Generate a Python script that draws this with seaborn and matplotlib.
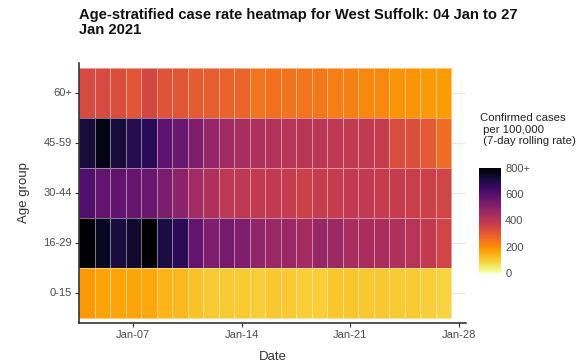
import numpy as np
import pandas as pd
import matplotlib
matplotlib.use("Agg")
import matplotlib.pyplot as plt
import seaborn as sns

# ============================================================
# DATA (7-day rolling rate per 100,000)
# ============================================================

age_groups = ["60+", "45-59", "30-44", "16-29", "0-15"]
dates = pd.date_range("2021-01-04", "2021-01-27")

rate_60_plus = [340, 340, 330, 310, 345, 315, 310, 295, 290, 280, 275, 245,
                250, 248, 245, 240, 225, 222, 210, 210, 190, 190, 180, 175]
rate_45_59 = [720, 770, 720, 690, 680, 590, 560, 520, 475, 455, 440, 425,
              420, 410, 405, 400, 395, 390, 385, 380, 330, 325, 300, 260]
rate_30_44 = [610, 575, 580, 570, 565, 530, 495, 450, 425, 395, 395, 385,
              385, 380, 365, 380, 380, 385, 385, 380, 380, 370, 365, 355]
rate_16_29 = [800, 750, 715, 735, 800, 710, 680, 575, 520, 540, 520, 485,
              470, 470, 445, 470, 465, 440, 435, 435, 425, 410, 385, 355]
rate_0_15 = [180, 165, 160, 160, 155, 135, 130, 115, 100, 100, 100, 95,
             105, 102, 95, 95, 108, 108, 104, 105, 102, 100, 92, 85]

tick_dates = ["Jan-07", "Jan-14", "Jan-21", "Jan-28"]
cbar_ticks = [0, 200, 400, 600, 800]
cbar_labels = ["0", "200", "400", "600", "800+"]

rates = pd.DataFrame(
    [rate_60_plus, rate_45_59, rate_30_44, rate_16_29, rate_0_15],
    index=age_groups,
    columns=dates.strftime("%b-%d"),
)

# ============================================================
# PLOT
# ============================================================

sns.set_style("white")
plt.rcParams["font.family"] = ["Liberation Sans", "DejaVu Sans"]

W, H = 585, 362
fig = plt.figure(figsize=(W / 100, H / 100), dpi=100)

ax = fig.add_axes([79 / W, 1 - 323 / H, 387 / W, 260 / H])
cax = fig.add_axes([479 / W, 1 - 273 / H, 22 / W, 105 / H])

sns.heatmap(
    rates,
    cmap="inferno_r",
    vmin=0,
    vmax=800,
    linewidths=0.5,
    linecolor=(1, 1, 1, 0.45),
    ax=ax,
    cbar_ax=cax,
)

# axes range: a bit of room round the tiles, x runs on to Jan-28
ax.set_xlim(0, 24.95)
ax.set_ylim(5.1, -0.1)

# tick positions from dates (cell i is centred at i + 0.5)
tick_pos = [(pd.Timestamp("2021-" + d.replace("Jan-", "01-")) - dates[0]).days + 0.5
            for d in tick_dates]
ax.set_xticks(tick_pos)
ax.set_xticklabels(tick_dates, rotation=0, fontsize=8, color="#4d4d4d")
ax.set_yticks(np.arange(len(age_groups)) + 0.5)
ax.set_yticklabels(age_groups, rotation=0, fontsize=8, color="#4d4d4d")

ax.tick_params(axis="both", length=3, width=0.8, color="#333333",
               left=True, bottom=True, pad=2)

for side in ["left", "bottom"]:
    ax.spines[side].set_visible(True)
    ax.spines[side].set_color("#222222")
    ax.spines[side].set_linewidth(1.1)

ax.set_axisbelow(True)
ax.grid(True, axis="y", color="#e8e8e8", linewidth=0.8)

ax.set_xlabel("Date", fontsize=9.5, color="#333333", labelpad=8)
ax.set_ylabel("Age group", fontsize=9.5, color="#333333", labelpad=10)

# colour bar
cbar = ax.collections[0].colorbar
cbar.outline.set_visible(False)
cbar.set_ticks(cbar_ticks)
cbar.set_ticklabels(cbar_labels)
cax.tick_params(length=0, labelsize=8, labelcolor="#4d4d4d", pad=3)

fig.text(480 / W, 1 - 113 / H,
         "Confirmed cases\n per 100,000\n (7-day rolling rate)",
         fontsize=8.2, color="#222222", ha="left", va="top", linespacing=1.2)

# title
fig.text(79 / W, 1 - 8 / H,
         "Age-stratified case rate heatmap for West Suffolk: 04 Jan to 27\nJan 2021",
         fontsize=10.6, fontweight="bold", color="#111111",
         ha="left", va="top", linespacing=1.1)

fig.savefig("out.png", dpi=100)
